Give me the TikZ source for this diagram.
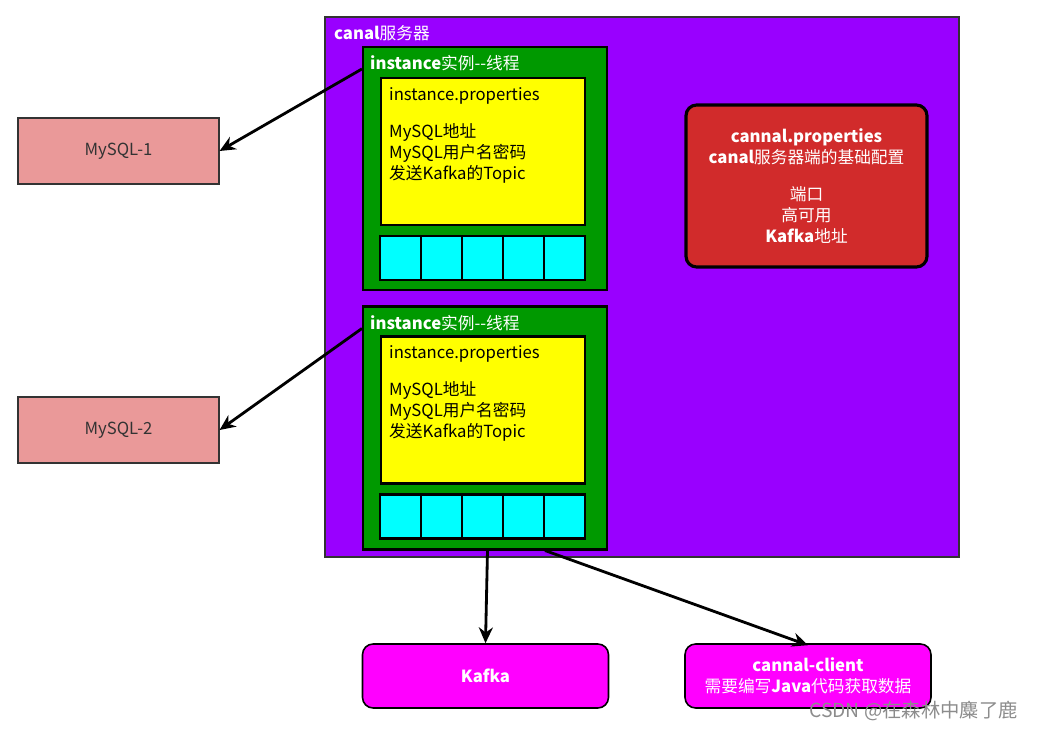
\documentclass[tikz,border=0pt]{standalone}
\usepackage{fontspec}
\setmainfont{Noto Sans CJK SC}
\usepackage{xcolor}
\usetikzlibrary{arrows.meta,positioning,calc}

\definecolor{srvpurple}{HTML}{9900FF}
\definecolor{instgreen}{HTML}{009900}
\definecolor{propyellow}{HTML}{FFFF00}
\definecolor{cellcyan}{HTML}{00FFFF}
\definecolor{cfgred}{HTML}{D12B2B}
\definecolor{dbpink}{HTML}{EA9999}
\definecolor{outmagenta}{HTML}{FF00FF}

\begin{document}
\begin{tikzpicture}[
    x=0.02cm, y=-0.02cm,
    font=\fontsize{9.5pt}{12pt}\selectfont,
    server/.style={rectangle, draw=black!80, line width=1pt, fill=srvpurple, minimum width=12.68cm, minimum height=10.8cm},
    instbox/.style={rectangle, draw=black, line width=1.2pt, fill=instgreen, minimum width=4.88cm, minimum height=4.86cm},
    propbox/.style={rectangle, draw=black, line width=1.2pt, fill=propyellow, minimum width=4.08cm, minimum height=2.94cm},
    cell/.style={rectangle, draw=black, line width=1.2pt, fill=cellcyan, minimum width=0.82cm, minimum height=0.88cm},
    cfgbox/.style={rectangle, rounded corners=6pt, draw=black, line width=1.8pt, fill=cfgred, minimum width=4.82cm, minimum height=3.24cm},
    dbbox/.style={rectangle, draw=black!80, line width=0.7pt, fill=dbpink, minimum width=4.02cm, minimum height=1.32cm, text=black!80},
    outbox/.style={rectangle, rounded corners=6pt, draw=black, line width=0.9pt, fill=outmagenta, minimum width=4.92cm, minimum height=1.28cm, text=white, align=center},
    link/.style={-{Stealth[length=9pt,width=8pt]}, line width=1.6pt, black}
]
\useasboundingbox (0,0) rectangle (1038,729);

% Canal server
\node[server] (srv) at (642,287) {};
\node[anchor=north west, text=white] (srvlabel) at (328,19) {\textbf{canal}服务器};

% Instance 1
\node[instbox] (inst1) at (485,168.5) {};
\node[anchor=north west, text=white] (inst1label) at (364,49) {\textbf{instance}实例-{}-线程};
\node[propbox] (prop1) at (483,151.5) {};
\node[anchor=north west, align=left] (prop1text) at (383,81) {instance.properties\\[9pt]MySQL地址\\MySQL用户名密码\\发送Kafka的Topic};
\node[cell] (c11) at (400.5,258) {};
\node[cell] (c12) at (441.5,258) {};
\node[cell] (c13) at (482.5,258) {};
\node[cell] (c14) at (523.5,258) {};
\node[cell] (c15) at (564.5,258) {};

% Instance 2
\node[instbox] (inst2) at (485,428) {};
\node[anchor=north west, text=white] (inst2label) at (364,309) {\textbf{instance}实例-{}-线程};
\node[propbox] (prop2) at (483,410) {};
\node[anchor=north west, align=left] (prop2text) at (383,339) {instance.properties\\[9pt]MySQL地址\\MySQL用户名密码\\发送Kafka的Topic};
\node[cell] (c21) at (400.5,516.5) {};
\node[cell] (c22) at (441.5,516.5) {};
\node[cell] (c23) at (482.5,516.5) {};
\node[cell] (c24) at (523.5,516.5) {};
\node[cell] (c25) at (564.5,516.5) {};

% Server config
\node[cfgbox] (cfg) at (806.5,186) {};
\node[text=white, align=center] (cfgtext) at (806.5,186) {\textbf{cannal.properties}\\\textbf{canal}服务器端的基础配置\\[9pt]端口\\高可用\\\textbf{Kafka}地址};

% MySQL sources
\node[dbbox] (db1) at (118.5,151) {MySQL-1};
\node[dbbox] (db2) at (118.5,430) {MySQL-2};

% Outputs
\node[outbox] (kafka) at (485.5,676) {\textbf{Kafka}};
\node[outbox] (client) at (808,676) {\textbf{cannal-client}\\需要编写\textbf{Java}代码获取数据};

% Connectors
\coordinate (from1) at ([yshift=-0.46cm]inst1.north west);
\coordinate (from2) at ([yshift=-0.46cm]inst2.north west);
\coordinate (from4) at ([xshift=1.2cm]inst2.south);
\draw[link] (from1) -- (db1.east);
\draw[link] (from2) -- (db2.east);
\draw[link] ([xshift=0.05cm]inst2.south) -- (kafka.north);
\draw[link] (from4) -- ([yshift=-0.04cm]client.north);

% Watermark
\node[anchor=east, text=black!45, font=\fontsize{11pt}{13pt}\selectfont] (mark) at (1024,711) {CSDN @在森林中麋了鹿};

\end{tikzpicture}
\end{document}
